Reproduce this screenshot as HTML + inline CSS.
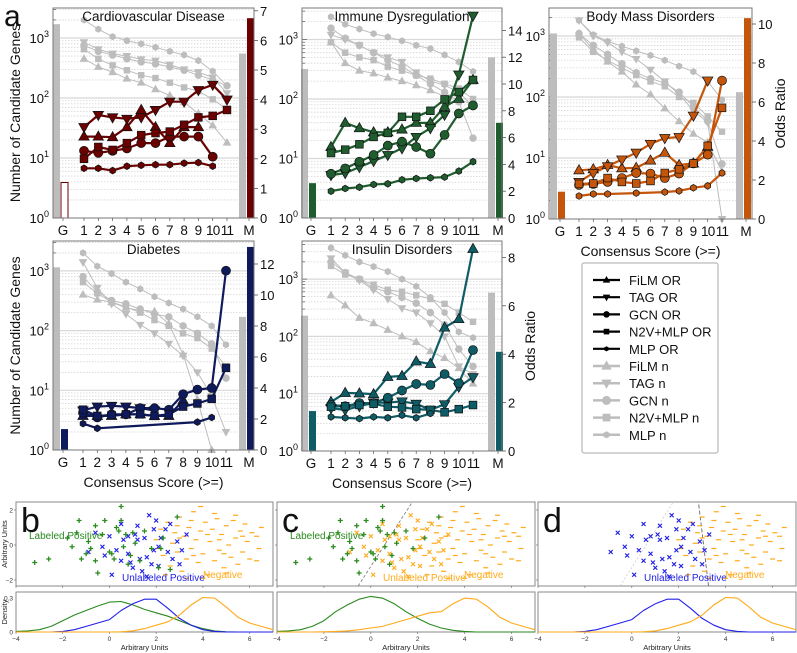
<!DOCTYPE html>
<html><head><meta charset="utf-8"><style>
body{margin:0;background:#fff}
svg{display:block;font-family:"Liberation Sans",Arial,sans-serif}
</style></head><body>
<svg id="fig" width="797" height="653" viewBox="0 0 797 653" xmlns="http://www.w3.org/2000/svg"></svg>
<script>
// ---------- DATA (panel a) ----------
const scores = [1,2,3,4,5,6,7,8,9,10,11];
const seriesNames = ["FiLM","TAG","GCN","N2V+MLP","MLP"];
const cvTitle = "Cardiovascular Disease";
const cvN_FiLM = [450,330,270,210,180,140,110,85,55,35,18];
const cvN_TAG = [850,650,550,500,440,420,360,300,270,220,120];
const cvN_GCN = [750,600,520,450,400,370,330,290,240,200,160];
const cvN_N2V = [650,450,350,290,240,215,180,150,130,95,65];
const cvN_MLP = [2000,1400,1050,900,800,700,600,520,420,280,160];
const cvOR_FiLM = [2.75,2.75,2.73,3.07,3.65,3.07,2.53,3.07,3.07,null,null];
const cvOR_TAG = [3.07,3.48,3.4,3.35,3.4,3.65,3.93,3.93,4.32,4.5,4.0];
const cvOR_GCN = [2.27,2.2,2.27,2.35,2.53,2.53,2.75,2.75,2.75,2.07,null];
const cvOR_N2V = [2.0,2.4,2.3,2.53,2.8,2.87,2.92,3.15,3.4,3.45,3.65];
const cvOR_MLP = [1.68,1.68,1.6,1.75,1.78,1.8,1.8,1.85,1.87,1.75,null];
const cvBarsN = [1700,550];   // G, M
const cvBarsOR = [1.2,6.75];

const imN_FiLM = [900,400,300,270,230,200,170,140,110,100,80];
const imN_TAG = [1200,1000,800,600,500,420,280,200,170,130,75];
const imN_GCN = [1550,1050,800,600,450,350,250,180,130,90,22];
const imN_N2V = [900,600,500,450,350,300,250,220,180,150,100];
const imN_MLP = [2400,1800,1500,1250,1100,950,800,700,550,420,290];
const imOR_FiLM = [5.3,7.1,6.7,6.4,6.4,6.6,7.1,7.1,8.3,8.9,10.3];
const imOR_TAG = [3.2,3.35,3.8,4.25,4.7,5.2,6.05,6.7,7.7,10.7,15.1];
const imOR_GCN = [3.3,3.7,4.2,4.7,5.4,5.7,5.3,4.8,6.2,7.8,8.4];
const imOR_N2V = [4.85,5.1,5.5,6.05,6.35,7.55,7.55,8.0,8.85,9.4,10.3];
const imOR_MLP = [2.0,2.2,2.3,2.5,2.55,2.85,2.95,3.0,3.05,3.5,4.2];
const imBarsN = [320,500];
const imBarsOR = [2.6,7.1];

const bmN_FiLM = [1100,600,380,260,160,110,65,40,25,18,6];
const bmN_TAG = [1800,1000,780,550,420,280,180,110,60,38,1];
const bmN_GCN = [1100,700,500,350,250,200,170,120,70,40,8];
const bmN_N2V = [950,550,400,300,230,180,150,100,80,48,27];
const bmN_MLP = [1800,1050,820,680,570,480,400,320,260,180,90];
const bmOR_FiLM = [2.5,2.55,2.77,2.6,2.62,3.0,3.4,2.77,2.85,3.7,null];
const bmOR_TAG = [1.9,2.36,2.7,3.05,3.4,3.85,4.15,4.2,5.3,7.1,null];
const bmOR_GCN = [1.75,1.8,1.9,2.1,2.36,2.33,2.1,2.33,2.85,3.3,7.1];
const bmOR_N2V = [1.8,1.82,2.1,1.9,1.82,1.95,2.36,2.55,2.85,3.75,5.7];
const bmOR_MLP = [1.18,1.28,1.28,null,1.33,null,1.38,1.44,1.6,1.7,2.36];
const bmBarsN = [1100,120];
const bmBarsOR = [1.4,10.3];

const dbN_FiLM = [400,330,300,240,220,210,130,40,7,1,null];
const dbN_TAG = [1400,520,280,190,125,90,60,38,20,8,2];
const dbN_GCN = [800,450,320,280,230,190,170,120,90,60,16];
const dbN_N2V = [650,420,300,250,200,150,120,90,75,50,25];
const dbN_MLP = [2000,1200,900,650,500,370,290,230,170,120,58];
const dbOR_FiLM = [2.2,2.2,2.2,2.3,2.3,2.2,2.2,3.2,null,null,null];
const dbOR_TAG = [2.55,2.8,2.85,2.8,2.7,2.55,null,null,null,null,null];
const dbOR_GCN = [2.4,2.1,2.3,2.3,2.7,2.7,2.6,3.6,3.9,4.0,11.57];
const dbOR_N2V = [2.6,2.2,2.25,2.3,2.3,2.2,2.3,2.8,3.0,3.3,5.3];
const dbOR_MLP = [1.7,1.4,null,null,null,null,null,null,1.8,2.1,null];
const dbBarsN = [1150,170];
const dbBarsOR = [1.35,13.1];

const inN_FiLM = [520,350,210,170,130,100,80,55,42,28,15];
const inN_TAG = [2300,1300,950,650,450,310,260,170,100,30,22];
const inN_GCN = [2000,1300,1000,700,600,480,380,260,160,60,30];
const inN_N2V = [1700,1200,1000,800,650,600,520,450,370,260,180];
const inN_MLP = [3500,2600,2000,1650,1350,1000,750,480,260,120,95];
const inOR_FiLM = [2.03,2.4,2.38,2.35,3.06,3.1,3.7,3.6,5.1,5.45,8.35];
const inOR_TAG = [1.77,1.7,1.85,2.0,2.0,2.05,1.95,1.7,1.93,2.65,3.05];
const inOR_GCN = [1.9,1.85,1.98,1.98,2.2,2.5,2.77,2.73,3.18,2.8,4.17];
const inOR_N2V = [1.83,1.85,1.9,1.95,1.83,1.8,1.73,1.7,1.6,1.73,1.9];
const inOR_MLP = [1.41,1.37,1.34,1.41,1.37,1.48,1.37,1.55,null,null,null];
const inBarsN = [230,580];
const inBarsOR = [1.65,4.1];

// ---------- DATA (panels b-d) ----------
const greenX = [-3.2,-1.8,-1.6,-1.3,-1.4,-1.2,-1.0,-0.9,-0.6,-0.6,-0.5,-0.3,-0.2,0,0.1,0.2,0.3,0.4,0.5,0.6,0.7,0.8,1.0,1.1,1.3,1.5,0.5,1.8,2.1,2.3,2.6,2.9,2.2,-2.6,-0.8,0.9];
const greenY = [-1.0,0.4,-0.1,1.4,0.7,-0.8,-0.5,0.2,1.1,-0.9,-1.6,0.6,1.4,-0.4,-0.5,-0.8,1.0,0.8,1.4,-0.1,0.6,-1.1,0.7,0.1,-0.9,0.8,2.2,-0.2,-1.3,0.4,-1.4,1.6,-0.2,-0.8,-0.2,-0.6];
const blueX = [-0.9,-0.6,-0.3,0,0.1,0.3,0.5,0.6,0.8,0.9,1.0,1.1,1.2,1.3,1.4,1.5,1.6,1.7,1.8,1.9,2.0,2.1,2.2,2.4,2.5,2.7,2.9,3.1,3.3,3.0,0.5,1.2,2.1,1.6,2.6,0.8,1.9,-0.2];
const blueY = [-0.4,0.7,-0.1,0.5,-1.7,-0.3,1.2,0.3,0.5,-1.0,-1.3,0.6,0.3,-0.8,-1.5,0.4,-0.7,1.7,-1.1,-0.3,1.4,-1.2,0.4,0.9,-0.4,-0.8,0.2,-0.3,0.6,-1.1,-0.9,1.1,-0.1,-1.8,1.2,-0.5,0.9,-0.6];
const orangeX = [2.0,2.2,2.3,2.5,2.6,2.7,2.8,2.9,3.0,3.1,3.2,3.3,3.4,3.5,3.6,3.7,3.8,3.9,4.0,4.1,4.2,4.3,4.4,4.5,4.6,4.7,4.8,4.9,5.0,5.1,5.2,5.3,5.4,5.5,5.6,5.7,5.8,5.9,6.0,6.1,6.3,6.4,6.5,6.3,3.9,4.5,2.4,3.3,4.0,5.0,2.1,2.9,3.6,4.7,5.4,4.2,3.0,5.7,4.9,3.5];
const orangeY = [0.3,0.9,-0.6,1.3,-1.2,0.1,0.7,-0.4,1.6,-1.5,0.5,-0.8,1.0,-0.2,1.9,0.3,-1.0,0.8,-0.5,1.3,-1.7,0.2,0.9,-0.9,1.5,-0.3,0.6,-1.3,1.1,0.0,-0.7,1.4,0.4,-1.1,0.8,-0.4,1.2,0.2,-0.8,0.7,0.5,-0.2,1.0,-0.9,2.2,1.8,-1.7,-1.9,-1.9,-1.6,-0.2,1.1,-0.6,0.3,1.7,0.6,0.4,0.5,-0.5,1.4];
const densX = [-4,-3.5,-3,-2.5,-2,-1.5,-1,-0.5,0,0.5,1,1.5,2,2.5,3,3.5,4,4.5,5,5.5,6,6.5,7];
const densGreenB = [0.005,0.01,0.02,0.05,0.1,0.15,0.19,0.23,0.265,0.27,0.24,0.2,0.17,0.14,0.1,0.06,0.03,0.01,0.002,0,0,0,0];
const densBlue = [0,0,0,0,0.005,0.02,0.05,0.08,0.11,0.19,0.25,0.29,0.29,0.21,0.12,0.06,0.02,0.005,0,0,0,0,0];
const densOrange = [0,0,0,0,0,0,0,0,0,0.002,0.01,0.03,0.06,0.09,0.15,0.24,0.305,0.3,0.22,0.13,0.08,0.05,0.02];
const densGreenC = [0.005,0.01,0.02,0.05,0.1,0.18,0.24,0.29,0.315,0.3,0.25,0.18,0.12,0.07,0.035,0.015,0.005,0,0,0,0,0,0];
const densOrangeC = [0,0,0,0,0.002,0.005,0.01,0.02,0.035,0.05,0.08,0.11,0.14,0.17,0.18,0.25,0.3,0.29,0.22,0.13,0.08,0.05,0.02];
const xTicks = [-4,-2,0,2,4,6];

// ---------- helpers ----------
const NS="http://www.w3.org/2000/svg";
const svg=document.getElementById('fig');
function el(tag,attrs,parent){const e=document.createElementNS(NS,tag);for(const k in attrs)e.setAttribute(k,attrs[k]);(parent||svg).appendChild(e);return e;}
function txt(s,attrs,parent){const e=el('text',attrs,parent);e.textContent=s;return e;}
function marker(type,cx,cy,s,fill,stroke,sw,parent){
  let e;
  if(type==="FiLM") e=el('polygon',{points:`${cx},${cy-s*0.62} ${cx-s*0.58},${cy+s*0.4} ${cx+s*0.58},${cy+s*0.4}`},parent);
  else if(type==="TAG") e=el('polygon',{points:`${cx},${cy+s*0.62} ${cx-s*0.58},${cy-s*0.4} ${cx+s*0.58},${cy-s*0.4}`},parent);
  else if(type==="GCN") e=el('circle',{cx:cx,cy:cy,r:s*0.5},parent);
  else if(type==="N2V+MLP") e=el('rect',{x:cx-s*0.43,y:cy-s*0.43,width:s*0.86,height:s*0.86},parent);
  else {let p=[];for(let i=0;i<6;i++){const a=Math.PI/3*i+Math.PI/6;p.push((cx+Math.cos(a)*s*0.4).toFixed(1)+","+(cy+Math.sin(a)*s*0.4).toFixed(1));}e=el('polygon',{points:p.join(' ')},parent);}
  e.setAttribute('fill',fill);e.setAttribute('stroke',stroke);e.setAttribute('stroke-width',sw);
  return e;
}
const GRAY="#bdbdbd";

const panels=[
 {key:"cv",title:cvTitle,color:"#6b0000",x0:53,x1:254,yT:8,yB:218,G:61,f:84,st:14.3,M:247,dec:60,rs:29.6,rt:[0,1,2,3,4,5,6,7],
  N:[cvN_FiLM,cvN_TAG,cvN_GCN,cvN_N2V,cvN_MLP],OR:[cvOR_FiLM,cvOR_TAG,cvOR_GCN,cvOR_N2V,cvOR_MLP],bN:cvBarsN,bOR:cvBarsOR,hollowG:true,ylab:true,xlab:false,rlab:false},
 {key:"im",title:"Immune Dysregulation",color:"#1f5c2e",x0:302,x1:502,yT:8,yB:218,G:309,f:331,st:14.2,M:496,dec:59.5,rs:13.4,rt:[0,2,4,6,8,10,12,14],
  N:[imN_FiLM,imN_TAG,imN_GCN,imN_N2V,imN_MLP],OR:[imOR_FiLM,imOR_TAG,imOR_GCN,imOR_N2V,imOR_MLP],bN:imBarsN,bOR:imBarsOR,ylab:false,xlab:false,rlab:false},
 {key:"bm",title:"Body Mass Disorders",color:"#c4560c",x0:549,x1:752,yT:8,yB:219,G:558,f:579,st:14.3,M:744,dec:61,rs:19.5,rt:[0,2,4,6,8,10],
  N:[bmN_FiLM,bmN_TAG,bmN_GCN,bmN_N2V,bmN_MLP],OR:[bmOR_FiLM,bmOR_TAG,bmOR_GCN,bmOR_N2V,bmOR_MLP],bN:bmBarsN,bOR:bmBarsOR,ylab:false,xlab:true,rlab:true},
 {key:"db",title:"Diabetes",color:"#0f1a5c",x0:53,x1:254,yT:241,yB:450,G:61,f:83,st:14.3,M:247,dec:59.7,rs:15.5,rt:[0,2,4,6,8,10,12],
  N:[dbN_FiLM,dbN_TAG,dbN_GCN,dbN_N2V,dbN_MLP],OR:[dbOR_FiLM,dbOR_TAG,dbOR_GCN,dbOR_N2V,dbOR_MLP],bN:dbBarsN,bOR:dbBarsOR,ylab:true,xlab:true,rlab:false},
 {key:"in",title:"Insulin Disorders",color:"#0e5c66",x0:302,x1:502,yT:241,yB:451,G:309,f:331,st:14.2,M:496,dec:57.3,rs:24.2,rt:[0,2,4,6,8],
  N:[inN_FiLM,inN_TAG,inN_GCN,inN_N2V,inN_MLP],OR:[inOR_FiLM,inOR_TAG,inOR_GCN,inOR_N2V,inOR_MLP],bN:inBarsN,bOR:inBarsOR,ylab:false,xlab:true,rlab:true}
];

panels.forEach(p=>{
  const g=el('g',{});
  
  
  const yL=v=>p.yB-Math.log10(v)*p.dec;
  const yR=v=>p.yB-v*p.rs;
  const xS=i=>p.f+i*p.st;
  for(let d=0;d<4;d++){for(let m=1;m<10;m++){const v=m*Math.pow(10,d);const y=yL(v);if(y<p.yT+1)continue;
    if(m===1){if(d>0){const l=el('line',{x1:p.x0,x2:p.x1,y1:y,y2:y,stroke:"#d8d8d8","stroke-width":1.2},g);}}
    else{const l=el('line',{x1:p.x0,x2:p.x1,y1:y,y2:y,stroke:"#d4d4d4","stroke-width":0.8,"stroke-dasharray":"1.5,1.5"},g);}
    el('line',{x1:p.x0,x2:p.x0+(m===1?5:3),y1:y,y2:y,stroke:"#555","stroke-width":0.7},g);
  }}
  const bars=[[p.G,0],[p.M,1]];
  bars.forEach(([bx,i])=>{
    const yn=yL(p.bN[i]);
    const b1=el('rect',{x:bx-8,y:yn,width:7,height:p.yB-yn,fill:GRAY},g);
    
    const yo=yR(p.bOR[i]);
    const hollow=(i===0&&p.hollowG);
    const b2=el('rect',{x:bx,y:yo,width:7,height:p.yB-yo,fill:hollow?"#fff":p.color,stroke:hollow?p.color:"none","stroke-width":1},g);
    
  });
  p.N.forEach((arr,si)=>{
    let d="";arr.forEach((v,i)=>{if(v==null)return;d+=(d?"L":"M")+xS(i).toFixed(1)+","+yL(Math.max(v,1)).toFixed(1);});
    const ln=el('path',{d:d,fill:"none",stroke:GRAY,"stroke-width":1},g);
    
    arr.forEach((v,i)=>{if(v==null)return;const mk=marker(seriesNames[si],xS(i),yL(Math.max(v,1)),si===4?9:7.5,GRAY,"none",0,g);
      });
  });
  p.OR.forEach((arr,si)=>{
    let d="";arr.forEach((v,i)=>{if(v==null)return;d+=(d?"L":"M")+xS(i).toFixed(1)+","+yR(v).toFixed(1);});
    const ln=el('path',{d:d,fill:"none",stroke:p.color,"stroke-width":2.2,"stroke-linejoin":"round"},g);
    
  });
  p.OR.forEach((arr,si)=>{
    arr.forEach((v,i)=>{if(v==null)return;const mk=marker(seriesNames[si],xS(i),yR(v),si===4?8.5:9,p.color,"#111",0.7,g);
      });
  });
  const fr=el('rect',{x:p.x0,y:p.yT,width:p.x1-p.x0,height:p.yB-p.yT,fill:"none",stroke:"#777","stroke-width":1},g);
  
  const t=txt(p.title,{x:(p.x0+p.x1)/2,y:p.yT+13,"font-size":13.5,"text-anchor":"middle",fill:"#111"},g);
  
  for(let d=0;d<4;d++){const y=yL(Math.pow(10,d));if(y<p.yT)continue;
    const tt=el('text',{x:p.x0-4,y:y+5,"font-size":13,"text-anchor":"end",fill:"#111"},g);
    
    const a=document.createElementNS(NS,'tspan');a.textContent="10";tt.appendChild(a);
    const b=document.createElementNS(NS,'tspan');b.textContent=String(d);b.setAttribute('font-size',9);b.setAttribute('dy',-6);tt.appendChild(b);
  }
  p.rt.forEach(v=>{const y=yR(v);el('line',{x1:p.x1,x2:p.x1+4,y1:y,y2:y,stroke:"#555","stroke-width":0.8},g);
    const tt=txt(String(v),{x:p.x1+6,y:y+5,"font-size":13,fill:"#111"},g);});
  const xl=[["G",p.G+2]].concat(scores.map((s,i)=>[String(s),xS(i)])).concat([["M",p.M+2]]);
  xl.forEach(([s,x])=>{el('line',{x1:x,x2:x,y1:p.yB,y2:p.yB+3,stroke:"#555","stroke-width":0.7},g);
    const tt=txt(s,{x:x,y:p.yB+17,"font-size":13.5,"text-anchor":"middle",fill:"#111","letter-spacing":s.length>1?"-0.8":"0"},g);});
  if(p.ylab){const tt=txt("Number of Candidate Genes",{x:0,y:0,"font-size":14,"text-anchor":"middle",fill:"#111",transform:`translate(20,${(p.yT+p.yB)/2}) rotate(-90)`},g);}
  if(p.rlab){const tt=txt("Odds Ratio",{x:0,y:0,"font-size":14,"text-anchor":"middle",fill:"#111",transform:`translate(${p.x1+33},${(p.yT+p.yB)/2}) rotate(-90)`},g);}
  if(p.xlab){const tt=txt("Consensus Score (>=)",{x:(p.x0+p.x1)/2,y:p.yB+37,"font-size":14,"text-anchor":"middle",fill:"#111"},g);}
});
{const t=txt("a",{x:4,y:26,"font-size":30,fill:"#111"});}

{
  const g=el('g',{});
  el('rect',{x:582,y:263,width:136,height:190,fill:"#fff",stroke:"#aaa","stroke-width":1,rx:2},g);
  const types=["FiLM","TAG","GCN","N2V+MLP","MLP"];
  for(let i=0;i<10;i++){
    const y=280+i*17.2;const isN=i>=5;const ty=types[i%5];const c=isN?GRAY:"#000";
    const e=el('g',{},g);
    el('line',{x1:593,x2:620,y1:y,y2:y,stroke:c,"stroke-width":isN?2.5:2.2},e);
    marker(ty,606.5,y,isN?9:6.5,c,"none",0,e);
    txt(ty+(isN?" n":" OR"),{x:629,y:y+5,"font-size":13,fill:"#111"},e);
  }
}

// ---------- panels b, c, d ----------
const sub=[
 {lab:"b",x0:16,x1:273,mode:"b"},
 {lab:"c",x0:277,x1:535,mode:"c"},
 {lab:"d",x0:538,x1:796,mode:"d"}
];
const SY0=502,SY1=586,DY0=592,DY1=632;
const GREEN="#2a8a1e",BLUE="#2020e8",ORANGE="#ffaa1a";
sub.forEach((s,idx)=>{
  const g=el('g',{});
  const ux=(s.x1-s.x0)/11;
  const X=v=>s.x0+(v+4)*ux;
  const Y=v=>545-v*17.5;
  const D=v=>DY1-v*113;
  el('rect',{x:s.x0,y:SY0,width:s.x1-s.x0,height:SY1-SY0,fill:"#fff",stroke:"#888","stroke-width":1},g);
  el('rect',{x:s.x0,y:DY0,width:s.x1-s.x0,height:DY1-DY0,fill:"#fff",stroke:"#888","stroke-width":1},g);
  xTicks.forEach(v=>{const x=X(v);el('line',{x1:x,x2:x,y1:SY1,y2:SY1+2,stroke:"#666","stroke-width":0.6},g);
    el('line',{x1:x,x2:x,y1:DY1,y2:DY1+2,stroke:"#666","stroke-width":0.6},g);
    const tt=txt(String(v).replace('-','\u2212'),{x:x,y:DY1+9,"font-size":6.5,"text-anchor":"middle",fill:"#333"},g);});
  [2,0,-2].forEach(v=>{const y=Y(v);el('line',{x1:s.x0-2,x2:s.x0,y1:y,y2:y,stroke:"#666","stroke-width":0.6},g);
    if(idx===0){txt(String(v).replace('-','\u2212'),{x:s.x0-3,y:y+2.5,"font-size":6.5,"text-anchor":"end",fill:"#333"},g);}});
  if(idx===0){
    txt("0.3",{x:s.x0-3,y:D(0.3)+2.5,"font-size":6.5,"text-anchor":"end",fill:"#333"},g);
    txt("0",{x:s.x0-3,y:D(0)+2.5,"font-size":6.5,"text-anchor":"end",fill:"#333"},g);
    const a=txt("Arbitrary Units",{x:0,y:0,"font-size":7.5,"text-anchor":"middle",fill:"#222",transform:"translate(7,544) rotate(-90)"},g);
    const b=txt("Density",{x:0,y:0,"font-size":7.5,"text-anchor":"middle",fill:"#222",transform:"translate(7,612) rotate(-90)"},g);
  }
  const xt=txt("Arbitrary Units",{x:(s.x0+s.x1)/2,y:650,"font-size":7.5,"text-anchor":"middle",fill:"#222"},g);
  if(s.mode==="c"){el('line',{x1:X(-0.54),y1:SY1,x2:X(1.77),y2:SY0,stroke:"#777","stroke-width":0.8,"stroke-dasharray":"3,2"},g);}
  if(s.mode==="d"){el('line',{x1:X(-0.5),y1:SY1,x2:X(1.77),y2:SY0,stroke:"#ccc","stroke-width":0.8,"stroke-dasharray":"2,2"},g);
    el('line',{x1:X(3.27),y1:SY1,x2:X(2.84),y2:SY0,stroke:"#666","stroke-width":0.9,"stroke-dasharray":"4,2"},g);}
  orangeX.forEach((v,i)=>{const x=X(v),y=Y(orangeY[i]);const m=el('line',{x1:x-2.5,x2:x+2.5,y1:y,y2:y,stroke:ORANGE,"stroke-width":1.2},g);
    });
  {
    const bc=s.mode==="c"?ORANGE:BLUE;
    blueX.forEach((v,i)=>{const x=X(v),y=Y(blueY[i]);const p=el('path',{d:`M${x-2},${y-2}L${x+2},${y+2}M${x-2},${y+2}L${x+2},${y-2}`,stroke:bc,"stroke-width":1.2,fill:"none"},g);
      });
  }
  if(s.mode!=="d"){
    greenX.forEach((v,i)=>{if(s.mode==="c"&&v>1.2&&i%2===0)return;const x=X(v),y=Y(greenY[i]);const p=el('path',{d:`M${x-2.5},${y}L${x+2.5},${y}M${x},${y-2.5}L${x},${y+2.5}`,stroke:GREEN,"stroke-width":1.3,fill:"none"},g);
      });
  }
  if(s.mode!=="d"){const t=txt("Labeled Positive",{x:s.x0+13,y:539,"font-size":10,fill:GREEN},g);}
  {const t=txt("Unlabeled Positive",{x:s.x0+106,y:581,"font-size":10,fill:s.mode==="c"?ORANGE:BLUE},g);}
  {const t=txt("Negative",{x:s.x0+187,y:578,"font-size":10,fill:ORANGE},g);}
  {const t=txt(s.lab,{x:s.x0+5,y:532,"font-size":34,fill:"#111"},g);}
  const curves = s.mode==="b"?[[densGreenB,GREEN],[densBlue,BLUE],[densOrange,ORANGE]]:
                 s.mode==="c"?[[densGreenC,GREEN],[densOrangeC,ORANGE]]:[[densBlue,BLUE],[densOrange,ORANGE]];
  curves.forEach(([arr,c])=>{let d="";arr.forEach((v,i)=>{d+=(d?"L":"M")+X(densX[i]).toFixed(1)+","+D(v).toFixed(1);});
    const p=el('path',{d:d,fill:"none",stroke:c,"stroke-width":1.1,"stroke-linejoin":"round"},g);
    });
});
</script>
</body></html>
